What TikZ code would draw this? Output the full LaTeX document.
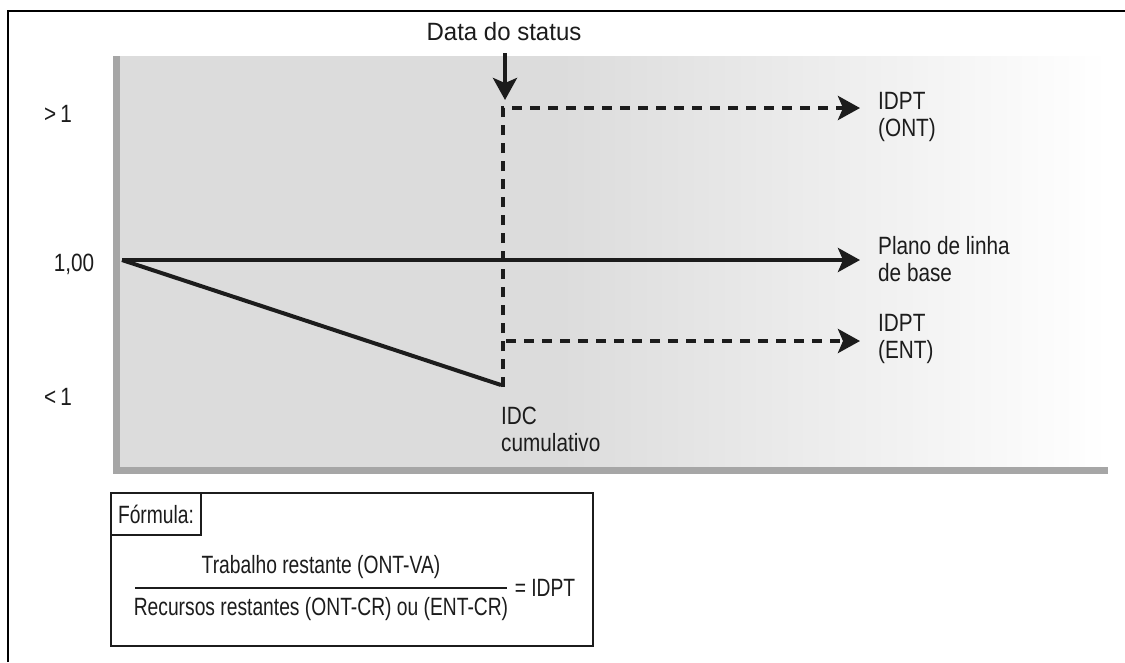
\documentclass[tikz,border=0pt]{standalone}
\usepackage{fontspec}
\setmainfont{Liberation Sans}[FakeStretch=0.83]
\newfontfamily\formulafont{Liberation Sans}[FakeStretch=0.77]
\newfontfamily\statusfont{Liberation Sans}[FakeStretch=0.96]
\usetikzlibrary{arrows.meta}

\definecolor{panelgray}{HTML}{DCDCDC}
\definecolor{bargray}{HTML}{A6A6A6}
\definecolor{inkgray}{HTML}{1C1C1C}

\tikzset{
  lbl/.style={inner sep=0pt, text=inkgray, font=\fontsize{25}{27}\selectfont, align=left},
  flbl/.style={lbl, font=\formulafont\fontsize{25}{27}\selectfont},
  solidarrow/.style={line width=4pt, draw=inkgray, -{Stealth[length=22pt, width=24pt, inset=5pt]}},
  dasharrow/.style={solidarrow, dash pattern=on 10pt off 8pt},
}

\begin{document}
\begin{tikzpicture}[x=1pt, y=-1pt]
        \useasboundingbox (0,0) rectangle (1125,662);
        \fill[white] (0,0) rectangle (1125,662);

        % Frame and panel
        \draw[line width=2.3pt] (8,662) -- (8,11) -- (1125,11);
        \fill[panelgray] (120,56) rectangle (561,467);
        \shade[left color=panelgray, right color=white] (560,56) rectangle (1108,467);
        \fill[bargray] (113,56) rectangle (120,474);
        \fill[bargray] (113,467) rectangle (1108,474);

        % Nodes
        \node (status) [lbl, font=\statusfont\fontsize{25}{27}\selectfont] at (504,32) {Data do status};
        \node (gt) [lbl] at (58,114) {>\,1};
        \node (one) [lbl] at (74,264) {1,00};
        \node (lt) [lbl] at (58,397) {<\,1};
        \node (ont) [lbl, anchor=west] at (878,117) {IDPT\\(ONT)};
        \node (base) [lbl, anchor=west] at (878,259) {Plano de linha\\de base};
        \node (ent) [lbl, anchor=west] at (878,339) {IDPT\\(ENT)};
        \node (idc) [lbl, anchor=north west] at (501,407) {IDC\\cumulativo};

        \coordinate (stTop) at (505,53);
        \coordinate (stBot) at (505,100);
        \coordinate (origin) at (122,260);
        \coordinate (baseEnd) at (860,260);
        \coordinate (idcEnd) at (501,385);
        \coordinate (vBot) at (503,387);
        \coordinate (vTop) at (503,108);
        \coordinate (ontEnd) at (860,108);
        \coordinate (entStart) at (506,341);
        \coordinate (entEnd) at (860,341);

        % Edges
        \draw[solidarrow] (stTop) -- (stBot);
        \draw[solidarrow] (origin) -- (baseEnd);
        \draw[line width=4pt, draw=inkgray, line join=round] (origin) -- (idcEnd);
        \draw[dasharrow] (vBot) -- (vTop) -- (ontEnd);
        \draw[dasharrow] (entStart) -- (entEnd);

        % Formula box
        \node (formbox) [draw=inkgray, line width=2pt, minimum width=482pt, minimum height=153pt, anchor=north west] at (110,492) {};
        \node (formtag) [draw=inkgray, line width=2pt, minimum width=90pt, minimum height=42pt, anchor=north west, flbl] at (110,492) {Fórmula:};
        \node (num) [flbl] at (321,567) {Trabalho restante (ONT-VA)};
        \node (den) [flbl] at (321,609) {Recursos restantes (ONT-CR) ou (ENT-CR)};
        \node (res) [flbl] at (545,588) {= IDPT};
        \draw[line width=1.5pt, draw=inkgray] (135,588) -- (507,588);
    \end{tikzpicture}
\end{document}
